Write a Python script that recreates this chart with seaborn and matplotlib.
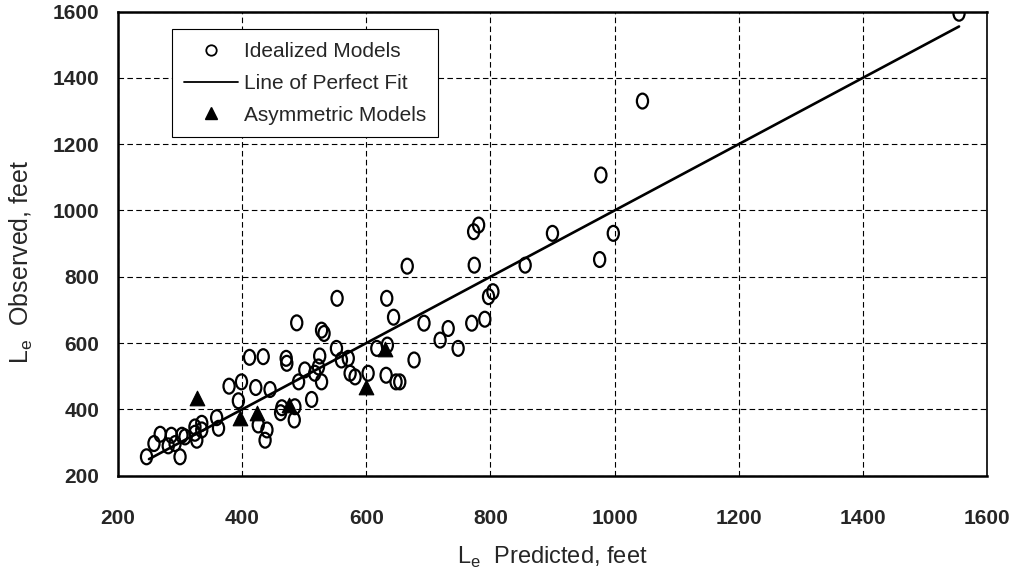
import matplotlib
matplotlib.use("Agg")
import matplotlib.pyplot as plt
from matplotlib.lines import Line2D
from matplotlib.path import Path
from matplotlib.transforms import Affine2D
import seaborn as sns
import pandas as pd

# idealized models (open circles)
x_ideal = [246, 258, 268, 281, 292, 286, 300, 303, 308, 324, 324, 327, 335, 335, 359, 362,
           379, 399, 394, 422, 445, 426, 440, 437, 412, 434, 464, 462, 485, 484, 491, 512,
           501, 517, 523, 528, 525, 471, 472, 488, 528, 532, 553, 552, 560, 571, 574, 582,
           603, 617, 634, 632, 648, 654, 633, 644, 677, 693, 719, 732, 748, 770, 791, 797,
           804, 666, 774, 773, 781, 856, 900, 976, 998, 978, 1045, 1555]
y_ideal = [257, 297, 325, 290, 297, 322, 257, 322, 317, 347, 328, 307, 338, 358, 375, 343,
           470, 483, 426, 466, 460, 353, 338, 307, 557, 559, 405, 390, 408, 368, 483, 430,
           519, 509, 528, 483, 561, 554, 539, 661, 639, 629, 735, 584, 549, 554, 509, 498,
           509, 584, 594, 503, 483, 483, 735, 678, 549, 660, 609, 644, 584, 660, 672, 740,
           755, 832, 835, 936, 956, 835, 931, 852, 931, 1107, 1330, 1595]

# asymmetric models (filled triangles)
x_asym = [327, 397, 424, 475, 600, 630]
y_asym = [435, 373, 390, 412, 468, 581]

# line of perfect fit
fit_x = [250, 1555]
fit_y = [250, 1555]

labels = ["Idealized Models", "Line of Perfect Fit", "Asymmetric Models"]

ideal = pd.DataFrame({"pred": x_ideal, "obs": y_ideal})
asym = pd.DataFrame({"pred": x_asym, "obs": y_asym})
fit = pd.DataFrame({"pred": fit_x, "obs": fit_y})

sns.set_style("white")
plt.rcParams["font.family"] = ["Liberation Sans", "DejaVu Sans"]
plt.rcParams["mathtext.fontset"] = "custom"
plt.rcParams["mathtext.rm"] = "Liberation Sans"

# scanned circles look a bit squeezed sideways
oval = Affine2D().scale(0.75, 1.0).transform_path(Path.unit_circle())

fig = plt.figure(figsize=(10.1, 5.78), dpi=100)
ax = fig.add_axes([0.1168, 0.177, 0.8604, 0.803])

sns.scatterplot(data=ideal, x="pred", y="obs", ax=ax, marker=oval, s=115,
                facecolor="none", edgecolor="black", linewidth=1.6, zorder=3)
sns.lineplot(data=fit, x="pred", y="obs", ax=ax, color="black", linewidth=1.9, zorder=2)
sns.scatterplot(data=asym, x="pred", y="obs", ax=ax, marker="^", s=110,
                color="black", edgecolor="black", zorder=4)

ax.set_xlim(200, 1600)
ax.set_ylim(200, 1600)
ax.set_xticks(range(200, 1601, 200))
ax.set_yticks(range(200, 1601, 200))
ax.grid(True, color="black", linestyle=(0, (5, 3)), linewidth=0.8)
ax.set_axisbelow(True)

for sp in ax.spines.values():
    sp.set_color("black")
    sp.set_linewidth(1.8)
ax.spines["right"].set_linewidth(1.2)

ax.tick_params(axis="x", direction="out", length=7.7, width=1.2, pad=16.5, labelsize=15)
ax.tick_params(axis="y", direction="out", length=4.5, width=1.2, pad=9, labelsize=15)
for lab in ax.get_xticklabels() + ax.get_yticklabels():
    lab.set_fontweight("bold")

ax.set_xlabel(r"L$_{\mathregular{e}}$  Predicted, feet", fontsize=17, labelpad=12)
ax.set_ylabel(r"L$_{\mathregular{e}}$  Observed, feet", fontsize=18)
ax.yaxis.set_label_coords(-0.095, 0.46)

handles = [
    Line2D([], [], linestyle="none", marker="o", markersize=7.5, markerfacecolor="none",
           markeredgecolor="black", markeredgewidth=1.3),
    Line2D([], [], color="black", linewidth=1.3),
    Line2D([], [], linestyle="none", marker="^", markersize=9, color="black"),
]
leg = ax.legend(handles, labels, loc="upper left", bbox_to_anchor=(0.0618, 0.9616),
                borderaxespad=0, fontsize=15, frameon=True, fancybox=False,
                edgecolor="black", handlelength=2.6, handletextpad=0.25,
                labelspacing=0.62, borderpad=0.6, framealpha=1)
leg.get_frame().set_linewidth(0.8)

fig.savefig("out.png", dpi=100)
